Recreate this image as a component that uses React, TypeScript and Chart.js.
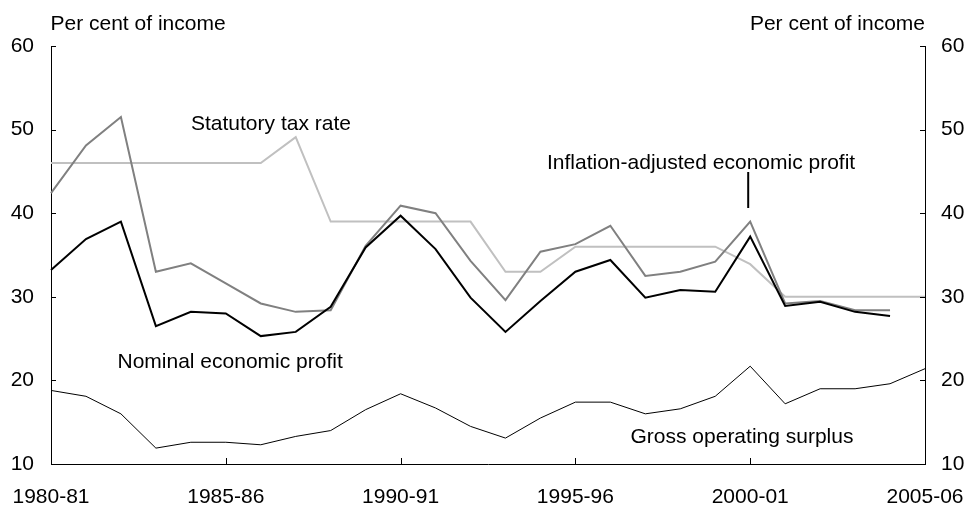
import React, { useEffect, useRef } from "react";
import { Chart, registerables } from "chart.js";

Chart.register(...registerables);

const years = [
  "1980-81", "1981-82", "1982-83", "1983-84", "1984-85", "1985-86", "1986-87",
  "1987-88", "1988-89", "1989-90", "1990-91", "1991-92", "1992-93", "1993-94",
  "1994-95", "1995-96", "1996-97", "1997-98", "1998-99", "1999-00", "2000-01",
  "2001-02", "2002-03", "2003-04", "2004-05", "2005-06",
];

const nominalProfit = [
  33.2, 36.9, 39.0, 26.5, 28.2, 28.0, 25.3, 25.8, 28.8, 35.9, 39.7, 35.7, 29.9,
  25.8, 29.5, 33.0, 34.4, 29.9, 30.8, 30.6, 37.2, 28.9, 29.4, 28.2, 27.7, null,
];

const inflationAdjustedProfit = [
  42.4, 48.1, 51.5, 33.0, 34.0, 31.6, 29.2, 28.2, 28.4, 36.1, 40.9, 40.0, 34.3,
  29.6, 35.4, 36.3, 38.5, 32.5, 33.0, 34.2, 39.0, 29.2, 29.5, 28.4, 28.4, null,
];

const statutoryTaxRate = [
  46, 46, 46, 46, 46, 46, 46, 49.1, 39, 39, 39, 39, 39, 33, 33, 36, 36, 36, 36,
  36, 33.9, 30, 30, 30, 30, 30,
];

const grossOperatingSurplus = [
  18.8, 18.1, 16.0, 11.9, 12.6, 12.6, 12.3, 13.3, 14.0, 16.5, 18.4, 16.7, 14.5,
  13.1, 15.5, 17.4, 17.4, 16.0, 16.6, 18.1, 21.7, 17.2, 19.0, 19.0, 19.6, 21.4,
];

const yTicks = [10, 20, 30, 40, 50, 60];
const xTickEvery = 5;
const axisTitle = "Per cent of income";

const FONT_FAMILY = "'Liberation Sans', Arial, Helvetica, sans-serif";
const FONT_SIZE = 21;

export default function App() {
  const ref = useRef<HTMLCanvasElement>(null);

  useEffect(() => {
    const canvas = ref.current;
    if (!canvas) return;

    const decorations = {
      id: "decorations",
      afterDraw(chart: any) {
        const ctx = chart.ctx as CanvasRenderingContext2D;
        const x = chart.scales.x;
        const y = chart.scales.y;
        const area = chart.chartArea;
        ctx.save();
        // inward tick marks
        ctx.strokeStyle = "#000";
        ctx.lineWidth = 1;
        ctx.beginPath();
        yTicks.forEach((v) => {
          const py = Math.round(y.getPixelForValue(v)) + 0.5;
          ctx.moveTo(area.left, py);
          ctx.lineTo(area.left + 5, py);
          ctx.moveTo(area.right, py);
          ctx.lineTo(area.right - 5, py);
        });
        years.forEach((_, i) => {
          if (i % xTickEvery !== 0) return;
          const px = Math.round(x.getPixelForValue(i)) + 0.5;
          ctx.moveTo(px, area.bottom);
          ctx.lineTo(px, area.bottom - 6);
        });
        ctx.stroke();

        // annotation pointer line
        ctx.lineWidth = 2;
        ctx.beginPath();
        const lx = x.getPixelForValue(20) - 2;
        ctx.moveTo(lx, 172);
        ctx.lineTo(lx, 208);
        ctx.stroke();

        // texts
        ctx.fillStyle = "#000";
        ctx.font = `${FONT_SIZE}px ${FONT_FAMILY}`;
        ctx.textBaseline = "alphabetic";
        ctx.textAlign = "left";
        ctx.fillText(axisTitle, 50.5, 30);
        ctx.fillText("Statutory tax rate", 191, 130);
        ctx.fillText("Inflation-adjusted economic profit", 547, 169);
        ctx.fillText("Nominal economic profit", 117.5, 368);
        ctx.fillText("Gross operating surplus", 630.5, 443);
        ctx.textAlign = "right";
        ctx.fillText(axisTitle, 925, 30);
        ctx.restore();
      },
    };

    const tickFont = { family: FONT_FAMILY, size: FONT_SIZE };
    const noGrid = { display: false, drawTicks: false, tickLength: 0 };

    const chart = new Chart(canvas, {
      type: "line",
      data: {
        labels: years,
        datasets: [
          {
            label: "Nominal economic profit",
            data: nominalProfit,
            borderColor: "#000000",
            borderWidth: 2,
            yAxisID: "y",
            order: 1,
          },
          {
            label: "Inflation-adjusted economic profit",
            data: inflationAdjustedProfit,
            borderColor: "#808080",
            borderWidth: 2,
            yAxisID: "y",
            order: 2,
          },
          {
            label: "Statutory tax rate",
            data: statutoryTaxRate,
            borderColor: "#c0c0c0",
            borderWidth: 2,
            yAxisID: "y",
            order: 3,
          },
          {
            label: "Gross operating surplus",
            data: grossOperatingSurplus,
            borderColor: "#000000",
            borderWidth: 1,
            yAxisID: "y",
            order: 0,
          },
        ],
      },
      options: {
        responsive: false,
        animation: false,
        devicePixelRatio: 1,
        layout: { padding: { top: 46, left: 0, right: 0, bottom: 0 } },
        plugins: {
          legend: { display: false },
          tooltip: { enabled: false },
          title: { display: false },
        },
        elements: {
          point: { radius: 0, hoverRadius: 0 },
          line: { tension: 0, fill: false },
        },
        scales: {
          x: {
            type: "category",
            offset: false,
            grid: noGrid,
            border: { display: true, color: "#000", width: 1 },
            ticks: {
              autoSkip: false,
              maxRotation: 0,
              minRotation: 0,
              padding: 21,
              color: "#000",
              font: tickFont,
              callback: (_v: any, i: number) => (i % xTickEvery === 0 ? years[i] : ""),
            },
            afterFit: (s: any) => {
              s.height = 42;
              s.paddingLeft = 0;
              s.paddingRight = 0;
            },
          },
          y: {
            type: "linear",
            position: "left",
            min: 10,
            max: 60,
            grid: noGrid,
            border: { display: true, color: "#000", width: 1 },
            ticks: { stepSize: 10, padding: 17, color: "#000", font: tickFont },
            afterFit: (s: any) => {
              s.width = 51;
              s.paddingTop = 0;
              s.paddingBottom = 0;
            },
          },
          y2: {
            type: "linear",
            position: "right",
            min: 10,
            max: 60,
            grid: noGrid,
            border: { display: true, color: "#000", width: 1 },
            ticks: { stepSize: 10, padding: 16, color: "#000", font: tickFont },
            afterFit: (s: any) => {
              s.width = 41;
              s.paddingTop = 0;
              s.paddingBottom = 0;
            },
          },
        },
      },
      plugins: [decorations],
    } as any);

    return () => chart.destroy();
  }, []);

  return (
    <div
      style={{
        position: "fixed",
        left: 0,
        top: 0,
        width: 966,
        height: 506,
        background: "#ffffff",
      }}
    >
      <canvas ref={ref} width={966} height={506} style={{ display: "block" }} />
    </div>
  );
}
